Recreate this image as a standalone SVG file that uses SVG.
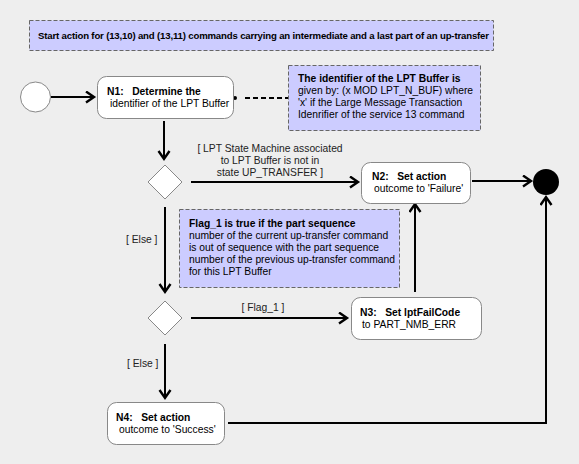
<svg xmlns="http://www.w3.org/2000/svg" width="579" height="464" viewBox="0 0 579 464">
<defs>
<marker id="arr" markerUnits="userSpaceOnUse" markerWidth="14" markerHeight="16" refX="9" refY="6.5" orient="auto">
<path d="M1,1 L9,6.5 L1,12" fill="none" stroke="#000" stroke-width="2.4"/>
</marker>
</defs>
<style>
text{font-family:"Liberation Sans",Arial,sans-serif;font-size:10.3px;fill:#000;white-space:pre}
.b{font-weight:bold}
.node{fill:#fff;stroke:#888;stroke-width:1}
.note{fill:#ccccff;stroke:#666;stroke-width:1;stroke-dasharray:4,2}
.c{fill:none;stroke:#000;stroke-width:2;marker-end:url(#arr)}
.lbl{fill:#222}
</style>
<rect x="0" y="0" width="579" height="464" fill="#eeeeee"/>
<g id="title">
<rect class="note" x="29.5" y="20.5" width="464" height="30"/>
<text class="b" x="38" y="38.5" style="font-size:9.6px" textLength="451" lengthAdjust="spacing">Start action for (13,10) and (13,11) commands carrying an intermediate and a last part of an up-transfer</text>
</g>
<g id="connectors">
<line class="c" x1="51" y1="97" x2="94" y2="97"/>
<circle cx="235" cy="98" r="2" fill="#000"/>
<line x1="245" y1="98" x2="288" y2="98" stroke="#000" stroke-width="2" stroke-dasharray="5,3"/>
<line class="c" x1="164" y1="121" x2="164" y2="159"/>
<line class="c" x1="191" y1="182" x2="358" y2="182"/>
<line class="c" x1="472" y1="181" x2="531" y2="181"/>
<line class="c" x1="165" y1="207" x2="165" y2="292"/>
<line class="c" x1="191" y1="318" x2="347" y2="318"/>
<line class="c" x1="415" y1="292" x2="415" y2="204"/>
<line class="c" x1="165" y1="344" x2="165" y2="398"/>
<polyline class="c" points="228,423 546,423 546,197"/>
<text class="lbl" x="270" y="152" text-anchor="middle">[ LPT State Machine associated</text>
<text class="lbl" x="270" y="164" text-anchor="middle">to LPT Buffer is not in</text>
<text class="lbl" x="270" y="176" text-anchor="middle">state UP_TRANSFER ]</text>
<text class="lbl" x="126" y="243">[ Else ]</text>
<text class="lbl" x="263" y="311" text-anchor="middle">[ Flag_1 ]</text>
<text class="lbl" x="127" y="367">[ Else ]</text>
</g>
<g id="start"><circle cx="35.5" cy="97" r="15" fill="#fff" stroke="#888"/></g>
<g id="N1">
<rect class="node" x="97.5" y="76.5" width="136" height="42" rx="9"/>
<text class="b" x="107" y="95">N1:   Determine the</text>
<text x="110" y="107">identifier of the LPT Buffer</text>
</g>
<g id="note1">
<rect class="note" x="288.5" y="65.5" width="192" height="65"/>
<text class="b" x="298" y="82">The identifier of the LPT Buffer is</text>
<text x="298" y="94">given by: (x MOD LPT_N_BUF) where</text>
<text x="298" y="106">'x' if the Large Message Transaction</text>
<text x="298" y="118">Idenrifier of the service 13 command</text>
</g>
<g id="D1"><polygon class="node" points="165,165 182,182 165,199 148,182"/></g>
<g id="N2">
<rect class="node" x="361.5" y="162.5" width="109" height="41" rx="9"/>
<text class="b" x="372" y="180">N2:   Set action</text>
<text x="374" y="192">outcome to 'Failure'</text>
</g>
<g id="final"><circle cx="546" cy="182" r="13" fill="#000"/></g>
<g id="note2">
<rect class="note" x="179.5" y="209.5" width="220" height="78"/>
<text class="b" x="189" y="227">Flag_1 is true if the part sequence</text>
<text x="189" y="239">number of the current up-transfer command</text>
<text x="189" y="251">is out of sequence with the part sequence</text>
<text x="189" y="263">number of the previous up-transfer command</text>
<text x="189" y="275">for this LPT Buffer</text>
</g>
<g id="D2"><polygon class="node" points="165,301 182,318 165,335 148,318"/></g>
<g id="N3">
<rect class="node" x="351.5" y="297.5" width="130" height="42" rx="9"/>
<text class="b" x="360" y="316">N3:   Set lptFailCode</text>
<text x="362" y="328">to PART_NMB_ERR</text>
</g>
<g id="N4">
<rect class="node" x="107.5" y="402.5" width="117" height="42" rx="9"/>
<text class="b" x="116" y="421">N4:   Set action</text>
<text x="119" y="433">outcome to 'Success'</text>
</g>
</svg>
